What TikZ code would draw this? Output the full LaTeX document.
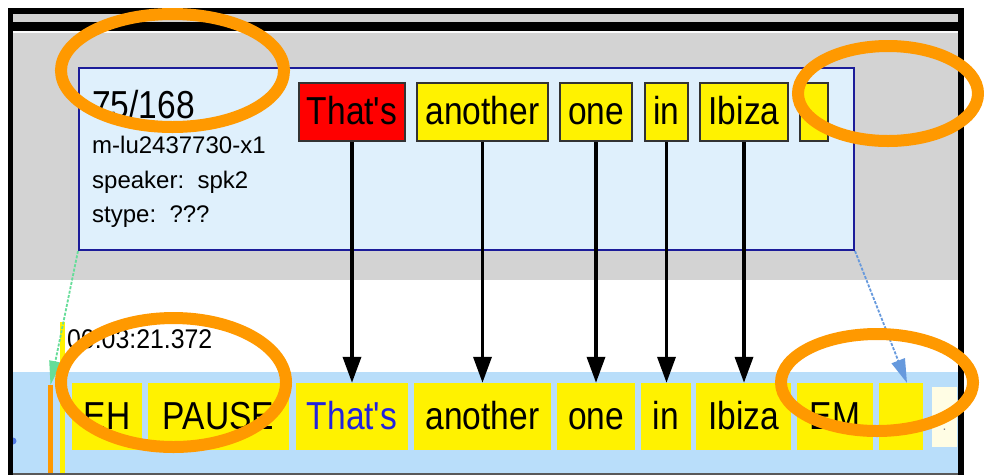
\documentclass[tikz,border=0pt]{standalone}
\usepackage{fontspec}
\setmainfont{Liberation Sans}
\newfontfamily\tokfont[FakeStretch=0.86]{Liberation Sans}
\newfontfamily\timefont[FakeStretch=0.92]{Liberation Sans}
\usetikzlibrary{arrows.meta}
\definecolor{greybg}{HTML}{D3D3D3}
\definecolor{bandblue}{HTML}{B9DEFA}
\definecolor{boxfill}{HTML}{DFF0FC}
\definecolor{boxline}{HTML}{1C1C99}
\definecolor{ringorange}{HTML}{FF9900}
\definecolor{greenarrow}{HTML}{66DD99}
\definecolor{bluearrow}{HTML}{6699DD}
\definecolor{bluetext}{HTML}{2222DD}
\definecolor{cream}{HTML}{FFFDE4}
\tikzset{
  sentbox/.style={draw=boxline, fill=boxfill, line width=2pt, inner sep=0pt},
  toptok/.style={draw=black!80, line width=1.5pt, inner sep=0pt, fill=yellow,
    minimum height=58pt, text height=30pt, text depth=5pt,
    font={\tokfont\fontsize{39pt}{40pt}\selectfont}},
  bottok/.style={fill=yellow, inner sep=0pt,
    minimum height=67pt, text height=30pt, text depth=5pt,
    font={\tokfont\fontsize{39pt}{40pt}\selectfont}},
  small/.style={anchor=base west, inner sep=0pt, font={\fontsize{24pt}{25pt}\selectfont}},
  link/.style={line width=3.5pt, -{Triangle[width=18pt,length=26pt]}},
  ring/.style={draw=ringorange, line width=12pt},
}
\begin{document}
\begin{tikzpicture}[x=1pt,y=-1pt]
\useasboundingbox (0,0) rectangle (984,475);
\fill[white] (0,0) rectangle (984,475);
% frame and background bands
\fill[black] (8,8) rectangle (964,475);
\fill[greybg] (13,14) rectangle (958,22);
\fill[greybg] (13,31) rectangle (958,280);
\fill[white!92!greybg] (13,31) rectangle (958,33);
\fill[white] (13,280) rectangle (958,372);
\fill[bandblue] (13,372) rectangle (958,473);
\fill[black!65] (13,473) rectangle (958,475);
\fill[bluearrow!80!blue] (13,444.5) arc (90:-90:3.5) -- cycle;
% vertical bars
\fill[yellow] (60,322) rectangle (65,473);
\fill[ringorange] (48,385) rectangle (53,473);
\coordinate (ebar) at (50.5,385);
\coordinate (emend) at (907,383);
% sentence box
\node[sentbox, minimum width=775pt, minimum height=182pt] (sent) at (466.5,159) {};
\node[anchor=base west, inner sep=0pt, font={\tokfont\fontsize{39pt}{40pt}\selectfont}] (num) at (92,118) {75/168};
\node[small] (mid) at (92,153) {m-lu2437730-x1};
\node[small] (spk) at (92,188) {speaker:\ \ spk2};
\node[small] (sty) at (92,222) {stype:\ \ ???};
% top tokens
\node[toptok, fill=red, minimum width=106pt] (t1) at (352,112) {That's};
\node[toptok, minimum width=131pt] (t2) at (482.5,112) {another};
\node[toptok, minimum width=72pt] (t3) at (596,112) {one};
\node[toptok, minimum width=43pt] (t4) at (666.5,112) {in};
\node[toptok, minimum width=88pt] (t5) at (744,112) {Ibiza};
\node[toptok, minimum width=28pt] (t6) at (814,112) {};
% time label
\node[anchor=base west, inner sep=0pt, font={\timefont\fontsize{27pt}{28pt}\selectfont}] (time) at (67,348) {00:03:21.372};
% bottom tokens
\node[bottok, minimum width=70pt] (b0) at (107,416.5) {EH};
\node[bottok, minimum width=141pt] (bp) at (218.5,416.5) {PAUSE};
\node[bottok, minimum width=112pt, text=bluetext] (b1) at (352,416.5) {That's};
\node[bottok, minimum width=137pt] (b2) at (482.5,416.5) {another};
\node[bottok, minimum width=78pt] (b3) at (596,416.5) {one};
\node[bottok, minimum width=50pt] (b4) at (666,416.5) {in};
\node[bottok, minimum width=95pt] (b5) at (743.5,416.5) {Ibiza};
\node[bottok, minimum width=76pt] (bem) at (835,416.5) {EM};
\node[bottok, minimum width=44pt] (b6) at (901,416.5) {};
\node[fill=cream, inner sep=0pt, minimum width=25pt, minimum height=60pt, text=gray,
  text height=26pt, text depth=0pt, font={\fontsize{14pt}{14pt}\selectfont}] (bdot) at (944.5,417) {.};
% alignment links
\foreach \t/\b in {t1/b1, t2/b2, t3/b3, t4/b4, t5/b5}
  \draw[link] (\t.south) -- (\t.south |- \b.north);
\draw[greenarrow, line width=1.8pt, dash pattern=on 3pt off 1.5pt,
  -{Triangle[width=12pt,length=24pt]}] (sent.south west) -- (ebar);
\draw[bluearrow, line width=1.8pt, dash pattern=on 3pt off 1.5pt,
  -{Triangle[width=14pt,length=24pt]}] (sent.south east) -- (emend);
% orange highlight rings
\draw[ring] (172.5,70.5) ellipse [x radius=111.5, y radius=56.5];
\draw[ring] (888,93.5) ellipse [x radius=90, y radius=47.5];
\draw[ring] (173.5,382.5) ellipse [x radius=112.5, y radius=64.5];
\draw[ring] (877,382.5) ellipse [x radius=96, y radius=48.5];
\end{tikzpicture}
\end{document}
